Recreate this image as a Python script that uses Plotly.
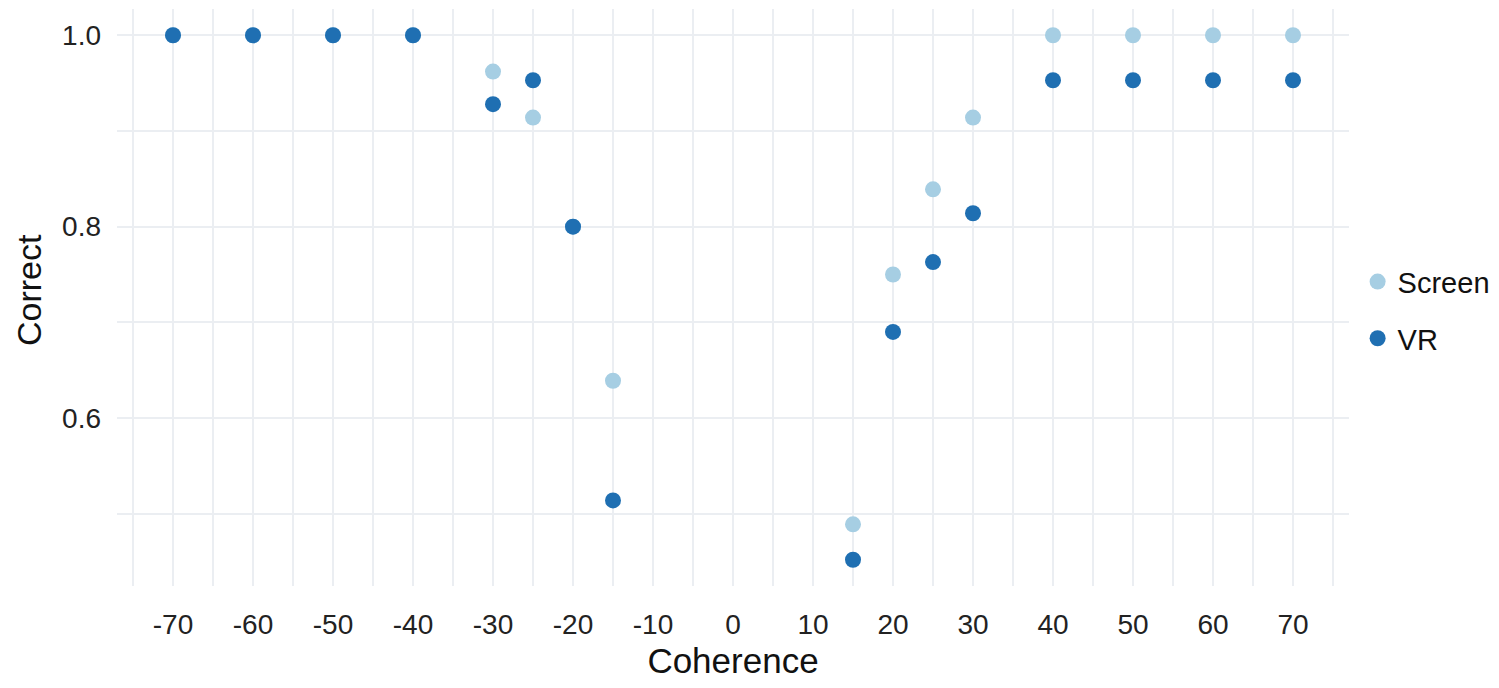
import plotly.graph_objects as go

coherence = [-70, -60, -50, -40, -30, -25, -20, -15, 15, 20, 25, 30, 40, 50, 60, 70]
screen = [1.0, 1.0, 1.0, 1.0, 0.962, 0.914, 0.800, 0.639, 0.489, 0.750, 0.839, 0.914, 1.0, 1.0, 1.0, 1.0]
vr = [1.0, 1.0, 1.0, 1.0, 0.928, 0.953, 0.800, 0.514, 0.452, 0.690, 0.763, 0.814, 0.953, 0.953, 0.953, 0.953]
x_ticks = [-70, -60, -50, -40, -30, -20, -10, 0, 10, 20, 30, 40, 50, 60, 70]
y_ticks = [0.6, 0.8, 1.0]
y_tick_labels = ["0.6", "0.8", "1.0"]

FONT = "Liberation Sans, Arial, sans-serif"
GRID = "#ebeef2"

fig = go.Figure()
fig.add_trace(go.Scatter(x=coherence, y=screen, mode="markers", name="Screen",
                         legendgroup="a",
                         marker=dict(color="#a6cee3", size=16, line=dict(width=0))))
fig.add_trace(go.Scatter(x=coherence, y=vr, mode="markers", name="VR",
                         legendgroup="b",
                         marker=dict(color="#1f6fb2", size=16, line=dict(width=0))))

# the page body adds an 8px offset, so the figure is sized to fit the window
fig.update_layout(
    width=1483, height=672,
    margin=dict(l=109, r=142, t=1, b=94, autoexpand=False),
    paper_bgcolor="white", plot_bgcolor="white",
    font=dict(family=FONT, color="#222222"),
    legend=dict(x=1.007, xanchor="left", y=0.478, yanchor="middle",
                font=dict(size=29, family=FONT, color="#111111"),
                tracegroupgap=16, bgcolor="rgba(0,0,0,0)"),
    xaxis=dict(range=[-77, 77], tickvals=x_ticks, ticktext=[str(v) for v in x_ticks],
               automargin=False,
               showgrid=True, gridcolor=GRID, gridwidth=2,
               minor=dict(dtick=5, tick0=-75, showgrid=True, gridcolor=GRID, gridwidth=2),
               zeroline=False, showline=False, ticks="", ticklabelstandoff=19,
               tickfont=dict(size=28, family=FONT, color="#222222"),
               title=dict(text="Coherence", font=dict(size=35, family=FONT, color="#111111"),
                          standoff=18)),
    yaxis=dict(range=[0.4246, 1.0274], tickvals=y_ticks, ticktext=y_tick_labels,
               automargin=False,
               showgrid=True, gridcolor=GRID, gridwidth=2,
               minor=dict(tickvals=[0.5, 0.7, 0.9], showgrid=True, gridcolor=GRID, gridwidth=2),
               zeroline=False, showline=False, ticks="", ticklabelstandoff=15,
               tickfont=dict(size=28, family=FONT, color="#222222")),
    annotations=[dict(text="Correct", xref="paper", yref="paper", x=0, y=0.513,
                      xanchor="center", yanchor="middle", xshift=-88, textangle=-90,
                      showarrow=False,
                      font=dict(size=34, family=FONT, color="#111111"))],
)

fig.write_html("out.html")
